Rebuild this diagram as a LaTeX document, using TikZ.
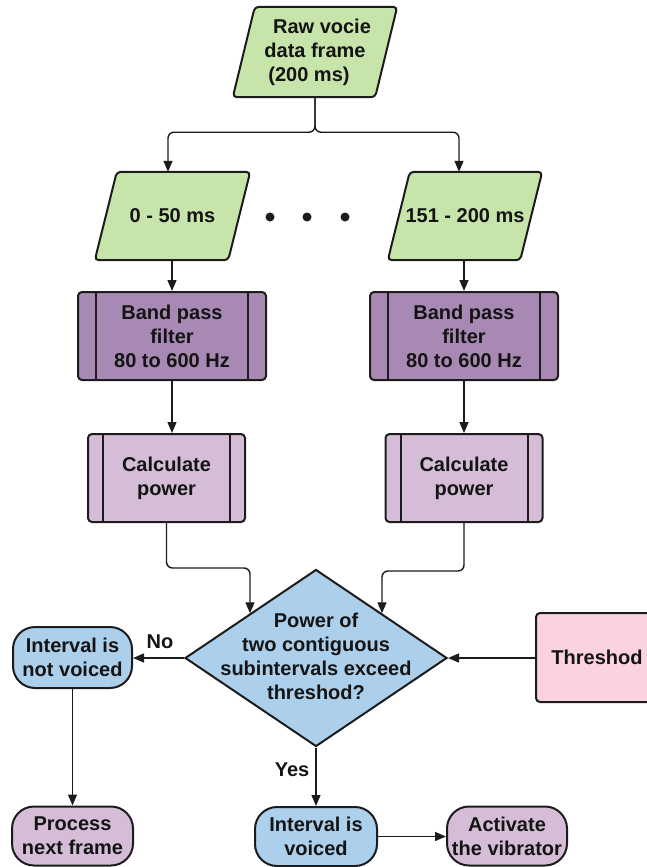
\documentclass[tikz,border=0pt]{standalone}
\usepackage{fontspec}
\setmainfont{Liberation Sans}
\usetikzlibrary{shapes.geometric,arrows.meta,backgrounds}
\definecolor{cgreen}{RGB}{199,228,170}
\definecolor{cpurple}{RGB}{168,137,180}
\definecolor{clilac}{RGB}{213,189,216}
\definecolor{cblue}{RGB}{172,207,236}
\definecolor{cpink}{RGB}{250,211,222}
\definecolor{cline}{RGB}{28,28,28}
\begin{document}
\begin{tikzpicture}[x=1pt,y=-1pt,
  txt/.style={font=\fontsize{20}{24}\selectfont\bfseries, text=black!92, align=center, inner sep=0pt},
  boxshape/.style={txt, draw=cline, line width=2pt, rounded corners=4pt},
  procbox/.style={boxshape, fill=cpurple, minimum width=188pt, minimum height=88pt},
  calcbox/.style={boxshape, fill=clilac, minimum width=157pt, minimum height=88pt},
  termbox/.style={txt, draw=cline, line width=2pt, rounded corners=22pt, minimum height=59pt},
  conn/.style={draw=cline, line width=1.4pt, -{Triangle[length=11pt,width=9pt]}, rounded corners=6pt},
  pshape/.style={draw=cline, line width=2pt, rounded corners=4pt, fill=cgreen},
  sideline/.style={draw=cline, line width=2pt},
]
\useasboundingbox (0,0) rectangle (647,867);
\clip (0,0) rectangle (647,867);

% parallelogram text nodes
\node[txt, minimum width=164pt, minimum height=90pt] (raw) at (315,52) {\hspace*{14pt}Raw vocie\\data frame\\(200 ms)\hspace*{12pt}};
\node[txt, minimum width=155pt, minimum height=88pt] (s1) at (172.5,216) {0 - 50 ms};
\node[txt, minimum width=154pt, minimum height=88pt] (s4) at (465,216) {151 - 200 ms};
\begin{scope}[on background layer]
  \foreach \n in {raw,s1,s4}{
    \draw[pshape] ([xshift=22pt]\n.north west) -- (\n.north east) -- ([xshift=-22pt]\n.south east) -- (\n.south west) -- cycle;
  }
\end{scope}

% dots
\fill[cline] (270,217) circle[radius=4.5pt];
\fill[cline] (307,217) circle[radius=4.5pt];
\fill[cline] (345,217) circle[radius=4.5pt];

% band pass filters
\node[procbox] (bp1) at (172,336) {Band pass\\filter\\80 to 600 Hz};
\node[procbox] (bp4) at (464,336) {Band pass\\filter\\80 to 600 Hz};
\foreach \n in {bp1,bp4}{
  \draw[sideline] ([xshift=19pt]\n.north west) -- ([xshift=19pt]\n.south west);
  \draw[sideline] ([xshift=-19pt]\n.north east) -- ([xshift=-19pt]\n.south east);
}

% calculate power
\node[calcbox] (cp1) at (166.5,478) {Calculate\\power};
\node[calcbox] (cp4) at (464,478) {Calculate\\power};
\foreach \n in {cp1,cp4}{
  \draw[sideline] ([xshift=16pt]\n.north west) -- ([xshift=16pt]\n.south west);
  \draw[sideline] ([xshift=-16pt]\n.north east) -- ([xshift=-16pt]\n.south east);
}

% decision
\node[diamond, draw=cline, line width=2pt, fill=cblue, minimum width=262pt, minimum height=177pt, inner sep=0pt] (dec) at (316,658) {};
\node[txt] (dectext) at (316,656) {Power of\\two contiguous\\subintervals exceed\\threshod?};

% threshold
\node[boxshape, fill=cpink, minimum width=122pt, minimum height=89pt] (thr) at (597,657.5) {Threshod};

% terminals
\node[termbox, fill=cblue, minimum width=119pt, minimum height=61pt] (nv) at (72.5,657.5) {Interval is\\not voiced};
\node[termbox, fill=clilac, minimum width=121pt] (pr) at (72.5,836) {Process\\next frame};
\node[termbox, fill=cblue, minimum width=122pt] (vo) at (316,836.5) {Interval is\\voiced};
\node[termbox, fill=clilac, minimum width=120pt] (ac) at (507,836) {Activate\\the vibrator};

% connectors
\coordinate (split) at ([yshift=-35pt]raw.south);
\draw[conn] (raw.south) -- (split) -| ([xshift=-4.5pt]s1.north);
\draw[conn] (raw.south) -- (split) -| ([xshift=-6pt]s4.north);
\draw[conn] (bp1.north |- s1.south) -- (bp1.north);
\draw[conn] (bp4.north |- s4.south) -- (bp4.north);
\draw[conn] (bp1.south) -- (bp1.south |- cp1.north);
\draw[conn] (bp4.south) -- (bp4.south |- cp4.north);
\draw[conn] (cp1.south) -- ++(0,45) -| (dec.north west);
\draw[conn] (cp4.south) -- ++(0,48) -| (dec.north east);
\draw[conn] (dec.east -| thr.west) -- (dec.east);
\draw[conn] (dec.west) -- (nv.east |- dec.west);
\draw[conn] (nv.south) -- (pr.north);
\draw[conn] (dec.south) -- (vo.north);
\draw[conn] (vo.east) -- (vo.east -| ac.west);

% labels
\node[txt] (nolab) at (160,642) {No};
\node[txt] (yeslab) at (292,770) {Yes};
\end{tikzpicture}
\end{document}
